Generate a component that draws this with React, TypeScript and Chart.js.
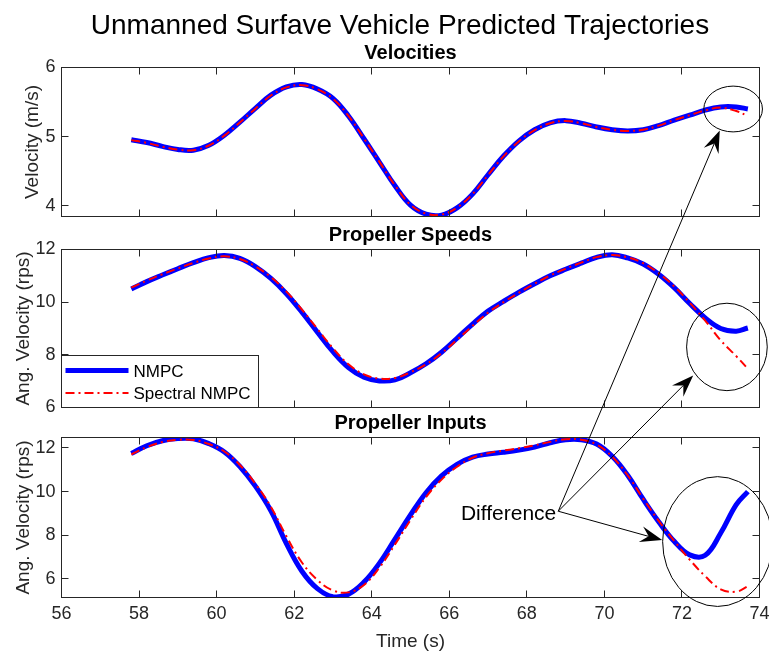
import React, { useEffect, useRef } from 'react';
import { Chart, registerables } from 'chart.js';

Chart.register(...registerables);

const FONT = '"Liberation Sans", Arial, Helvetica, sans-serif';
const AXIS_COLOR = '#262626';
const NMPC_COLOR = '#0000ff';
const SPECTRAL_COLOR = '#ff0000';
const W = 769;
const H = 651;

// Prediction horizon time stamps (s)
const times = [
  57.8, 58.2, 58.6, 59.0, 59.4, 59.8, 60.2, 60.6, 61.0, 61.4,
  61.8, 62.2, 62.6, 63.0, 63.4, 63.8, 64.2, 64.6, 65.0, 65.4,
  65.8, 66.2, 66.6, 67.0, 67.4, 67.8, 68.2, 68.6, 69.0, 69.4,
  69.8, 70.2, 70.6, 71.0, 71.4, 71.8, 72.2, 72.6, 73.0, 73.4,
  73.7,
];

// Surge velocity (m/s)
const velocityNMPC = [
  4.955, 4.915, 4.86, 4.815, 4.805, 4.875, 5.02, 5.21, 5.41, 5.6,
  5.72, 5.755, 5.69, 5.555, 5.3, 4.97, 4.63, 4.29, 4.01, 3.88,
  3.865, 3.97, 4.17, 4.45, 4.72, 4.94, 5.1, 5.2, 5.232, 5.195,
  5.14, 5.1, 5.083, 5.1, 5.16, 5.24, 5.31, 5.385, 5.43, 5.43,
  5.4,
];
const velocitySpectral = [
  4.95, 4.91, 4.855, 4.812, 4.805, 4.872, 5.015, 5.205, 5.405, 5.595,
  5.712, 5.745, 5.685, 5.55, 5.3, 4.975, 4.635, 4.295, 4.015, 3.888,
  3.875, 3.975, 4.17, 4.445, 4.715, 4.935, 5.095, 5.195, 5.228, 5.195,
  5.14, 5.1, 5.083, 5.1, 5.16, 5.24, 5.31, 5.38, 5.42, 5.37,
  5.3,
];

// Propeller speeds (rps)
const speedNMPC = [
  10.5, 10.78, 11.03, 11.27, 11.5, 11.69, 11.77, 11.66, 11.35, 10.9,
  10.32, 9.62, 8.86, 8.12, 7.52, 7.15, 7.01, 7.05, 7.32, 7.66,
  8.1, 8.63, 9.17, 9.66, 10.03, 10.38, 10.7, 11.0, 11.25, 11.48,
  11.7, 11.8, 11.68, 11.45, 11.06, 10.55, 9.95, 9.4, 9.0, 8.9,
  9.02,
];
const speedSpectral = [
  10.55, 10.82, 11.06, 11.28, 11.49, 11.66, 11.74, 11.64, 11.36, 10.95,
  10.4, 9.72, 8.98, 8.25, 7.64, 7.26, 7.1, 7.12, 7.34, 7.64,
  8.06, 8.57, 9.1, 9.6, 10.0, 10.36, 10.7, 11.01, 11.27, 11.5,
  11.71, 11.79, 11.7, 11.48, 11.1, 10.6, 9.98, 9.3, 8.55, 7.95,
  7.47,
];

// Commanded propeller inputs (rps)
const inputNMPC = [
  11.75, 12.1, 12.33, 12.43, 12.42, 12.2, 11.82, 11.15, 10.25, 9.12,
  7.62, 6.35, 5.55, 5.18, 5.3, 5.85, 6.72, 7.82, 8.93, 9.95,
  10.72, 11.25, 11.58, 11.72, 11.8, 11.9, 12.04, 12.24, 12.38, 12.38,
  12.18, 11.62, 10.75, 9.65, 8.62, 7.72, 7.1, 7.08, 8.1, 9.4,
  10.0,
];
const inputSpectral = [
  11.7, 12.04, 12.27, 12.37, 12.37, 12.18, 11.84, 11.22, 10.36, 9.3,
  7.95, 6.75, 5.95, 5.47, 5.38, 5.72, 6.52, 7.58, 8.7, 9.75,
  10.55, 11.14, 11.55, 11.76, 11.88, 11.99, 12.12, 12.28, 12.4, 12.38,
  12.16, 11.6, 10.75, 9.68, 8.66, 7.74, 6.88, 6.12, 5.52, 5.41,
  5.66,
];

const timeTicks = [56, 58, 60, 62, 64, 66, 68, 70, 72, 74];
const velocityTicks = [4, 5, 6];
const angularTicks = [6, 8, 10, 12];

const seriesNames = ['NMPC', 'Spectral NMPC'];

// Callout: one label with arrows pointing at the circled end regions
const calloutText = 'Difference';
const calloutOrigin = { panel: 2, x: 68.81, y: 9.1 };
const calloutTargets = [
  { panel: 0, x: 72.975, y: 5.088 },
  { panel: 1, x: 72.29, y: 7.214 },
  { panel: 2, x: 71.49, y: 7.776 },
];
const highlightRegions = [
  { panel: 0, x: 73.32, y: 5.4, rx: 0.756, ry: 0.331 },
  { panel: 1, x: 73.16, y: 8.3, rx: 1.04, ry: 1.66 },
  { panel: 2, x: 72.92, y: 7.71, rx: 1.418, ry: 2.975 },
];

type Panel = {
  title: string;
  titleBaseline: number;
  yLabel: string;
  yLabelX: number;
  top: number;
  bottom: number;
  yMin: number;
  yMax: number;
  yTicks: number[];
  nmpc: number[];
  spectral: number[];
  showTime: boolean;
};

const panels: Panel[] = [
  {
    title: 'Velocities', titleBaseline: 58.5, yLabel: 'Velocity (m/s)', yLabelX: 37.5,
    top: 67.5, bottom: 216.5, yMin: 3.846, yMax: 6, yTicks: velocityTicks,
    nmpc: velocityNMPC, spectral: velocitySpectral, showTime: false,
  },
  {
    title: 'Propeller Speeds', titleBaseline: 240.5, yLabel: 'Ang. Velocity (rps)', yLabelX: 28.6,
    top: 249.5, bottom: 407.5, yMin: 6, yMax: 12, yTicks: angularTicks,
    nmpc: speedNMPC, spectral: speedSpectral, showTime: false,
  },
  {
    title: 'Propeller Inputs', titleBaseline: 428.5, yLabel: 'Ang. Velocity (rps)', yLabelX: 28.6,
    top: 437.5, bottom: 597.5, yMin: 5.145, yMax: 12.48, yTicks: angularTicks,
    nmpc: inputNMPC, spectral: inputSpectral, showTime: true,
  },
];

const LEFT = 61.5;
const RIGHT_PAD = 9.5;
const TICK_LEN = 7;
const TIME_AXIS_H = 32;
const SPECTRAL_DASH = [9, 4, 2, 4];

const crisp = (v: number) => Math.round(v - 0.5) + 0.5;

function toPoints(values: number[]) {
  return times.map((t, i) => ({ x: t, y: values[i] }));
}

export default function App() {
  const canvasRefs = useRef<(HTMLCanvasElement | null)[]>([]);

  useEffect(() => {
    const charts: Chart[] = [];

    panels.forEach((p, idx) => {
      const canvas = canvasRefs.current[idx];
      if (!canvas) return;
      const xAxisH = p.showTime ? TIME_AXIS_H : 0;

      const panelPlugin = {
        id: 'panelFrame' + idx,
        afterDraw(chart: any) {
          const ctx: CanvasRenderingContext2D = chart.ctx;
          const { left, right, top, bottom } = chart.chartArea;
          const xs = chart.scales.x;
          const ys = chart.scales.y;

          ctx.save();
          // Axes box with inward ticks on all four sides
          ctx.strokeStyle = AXIS_COLOR;
          ctx.lineWidth = 1;
          ctx.strokeRect(left, top, right - left, bottom - top);
          ctx.beginPath();
          timeTicks.forEach((v) => {
            const px = crisp(xs.getPixelForValue(v));
            ctx.moveTo(px, bottom);
            ctx.lineTo(px, bottom - TICK_LEN);
            ctx.moveTo(px, top);
            ctx.lineTo(px, top + TICK_LEN);
          });
          p.yTicks.forEach((v) => {
            const py = crisp(ys.getPixelForValue(v));
            ctx.moveTo(left, py);
            ctx.lineTo(left + TICK_LEN, py);
            ctx.moveTo(right, py);
            ctx.lineTo(right - TICK_LEN, py);
          });
          ctx.stroke();

          // Subplot title
          ctx.fillStyle = '#000';
          ctx.font = `bold 20px ${FONT}`;
          ctx.textAlign = 'center';
          ctx.textBaseline = 'alphabetic';
          ctx.fillText(p.title, (left + right) / 2, p.titleBaseline);

          // Y axis label
          ctx.save();
          ctx.translate(p.yLabelX, (top + bottom) / 2);
          ctx.rotate(-Math.PI / 2);
          ctx.fillStyle = AXIS_COLOR;
          ctx.font = `19px ${FONT}`;
          ctx.textAlign = 'center';
          ctx.fillText(p.yLabel, 0, 0);
          ctx.restore();

          if (idx === 0) {
            ctx.fillStyle = '#000';
            ctx.font = `28px ${FONT}`;
            ctx.textAlign = 'center';
            ctx.fillText('Unmanned Surfave Vehicle Predicted Trajectories', 400, 33.5);
          }

          if (idx === 1) {
            // Legend in the lower-left corner
            const lx = left;
            const ly = 355.5;
            const lw = 197;
            const lh = bottom - ly;
            ctx.fillStyle = '#fff';
            ctx.fillRect(lx, ly, lw, lh);
            ctx.strokeStyle = AXIS_COLOR;
            ctx.lineWidth = 1;
            ctx.strokeRect(lx, ly, lw, lh);

            ctx.strokeStyle = NMPC_COLOR;
            ctx.lineWidth = 5;
            ctx.beginPath();
            ctx.moveTo(lx + 4, 370.5);
            ctx.lineTo(lx + 67, 370.5);
            ctx.stroke();

            ctx.strokeStyle = SPECTRAL_COLOR;
            ctx.lineWidth = 2;
            ctx.setLineDash(SPECTRAL_DASH);
            ctx.beginPath();
            ctx.moveTo(lx + 4, 393);
            ctx.lineTo(lx + 67, 393);
            ctx.stroke();
            ctx.setLineDash([]);

            ctx.fillStyle = '#000';
            ctx.font = `17px ${FONT}`;
            ctx.textAlign = 'left';
            ctx.fillText(seriesNames[0], lx + 72, 376.5);
            ctx.fillText(seriesNames[1], lx + 72, 399);
          }

          if (idx === 2) {
            // Time axis label
            ctx.fillStyle = AXIS_COLOR;
            ctx.font = `19px ${FONT}`;
            ctx.textAlign = 'center';
            ctx.fillText('Time (s)', (left + right) / 2, 646.5);

            const at = (panel: number, x: number, y: number) => {
              const c = panel === idx ? chart : charts[panel];
              return { x: c.scales.x.getPixelForValue(x), y: c.scales.y.getPixelForValue(y) };
            };

            ctx.strokeStyle = '#000';
            ctx.lineWidth = 1;
            highlightRegions.forEach((r) => {
              const c = r.panel === idx ? chart : charts[r.panel];
              const ctr = at(r.panel, r.x, r.y);
              const rx = Math.abs(c.scales.x.getPixelForValue(r.x + r.rx) - ctr.x);
              const ry = Math.abs(c.scales.y.getPixelForValue(r.y + r.ry) - ctr.y);
              ctx.beginPath();
              ctx.ellipse(ctr.x, ctr.y, rx, ry, 0, 0, Math.PI * 2);
              ctx.stroke();
            });

            const o = at(calloutOrigin.panel, calloutOrigin.x, calloutOrigin.y);
            calloutTargets.forEach((t) => {
              const tip = at(t.panel, t.x, t.y);
              const dx = tip.x - o.x;
              const dy = tip.y - o.y;
              const len = Math.hypot(dx, dy);
              const ux = dx / len;
              const uy = dy / len;
              const nx = -uy;
              const ny = ux;
              const headLen = 22;
              const headHalf = 8;
              const notch = 14;
              const n = { x: tip.x - ux * notch, y: tip.y - uy * notch };
              ctx.beginPath();
              ctx.moveTo(o.x, o.y);
              ctx.lineTo(n.x, n.y);
              ctx.stroke();
              ctx.fillStyle = '#000';
              ctx.beginPath();
              ctx.moveTo(tip.x, tip.y);
              ctx.lineTo(tip.x - ux * headLen + nx * headHalf, tip.y - uy * headLen + ny * headHalf);
              ctx.lineTo(n.x, n.y);
              ctx.lineTo(tip.x - ux * headLen - nx * headHalf, tip.y - uy * headLen - ny * headHalf);
              ctx.closePath();
              ctx.fill();
            });

            ctx.fillStyle = '#000';
            ctx.font = `21px ${FONT}`;
            ctx.textAlign = 'right';
            ctx.fillText(calloutText, o.x - 2, o.y + 8.5);
          }
          ctx.restore();
        },
      };

      const chart = new Chart(canvas, {
        type: 'line',
        data: {
          datasets: [
            {
              label: seriesNames[1],
              data: toPoints(p.spectral),
              borderColor: SPECTRAL_COLOR,
              borderWidth: 2,
              borderDash: SPECTRAL_DASH,
              pointRadius: 0,
              tension: 0.4,
              fill: false,
              order: 1,
            },
            {
              label: seriesNames[0],
              data: toPoints(p.nmpc),
              borderColor: NMPC_COLOR,
              borderWidth: 5,
              pointRadius: 0,
              tension: 0.4,
              fill: false,
              order: 2,
            },
          ],
        },
        options: {
          responsive: false,
          animation: false,
          devicePixelRatio: 1,
          events: [],
          layout: {
            padding: { top: p.top, bottom: H - p.bottom - xAxisH, left: 0, right: RIGHT_PAD },
          },
          plugins: {
            legend: { display: false },
            tooltip: { enabled: false },
            title: { display: false },
          },
          scales: {
            x: {
              type: 'linear',
              min: 56,
              max: 74,
              grid: { display: false, drawTicks: false },
              border: { display: false },
              afterFit: (s: any) => {
                s.height = xAxisH;
                s.paddingLeft = 0;
                s.paddingRight = 0;
              },
              afterBuildTicks: (s: any) => {
                s.ticks = timeTicks.map((v) => ({ value: v }));
              },
              ticks: {
                display: p.showTime,
                padding: 6,
                color: AXIS_COLOR,
                font: { family: FONT, size: 18 },
                maxRotation: 0,
                autoSkip: false,
              },
            },
            y: {
              type: 'linear',
              min: p.yMin,
              max: p.yMax,
              grid: { display: false, drawTicks: false },
              border: { display: false },
              afterFit: (s: any) => {
                s.width = LEFT;
                s.paddingTop = 0;
                s.paddingBottom = 0;
              },
              afterBuildTicks: (s: any) => {
                s.ticks = p.yTicks.map((v) => ({ value: v }));
              },
              ticks: {
                padding: 6,
                color: AXIS_COLOR,
                font: { family: FONT, size: 18 },
                autoSkip: false,
              },
            },
          },
        } as any,
        plugins: [panelPlugin],
      });
      charts.push(chart);
    });

    return () => {
      charts.forEach((c) => c.destroy());
    };
  }, []);

  return (
    <div style={{ position: 'absolute', left: 0, top: 0, width: W, height: H, background: '#fff', overflow: 'hidden' }}>
      {panels.map((p, i) => (
        <canvas
          key={p.title}
          ref={(el) => {
            canvasRefs.current[i] = el;
          }}
          width={W}
          height={H}
          style={{ position: 'absolute', left: 0, top: 0, width: W, height: H }}
        />
      ))}
    </div>
  );
}
